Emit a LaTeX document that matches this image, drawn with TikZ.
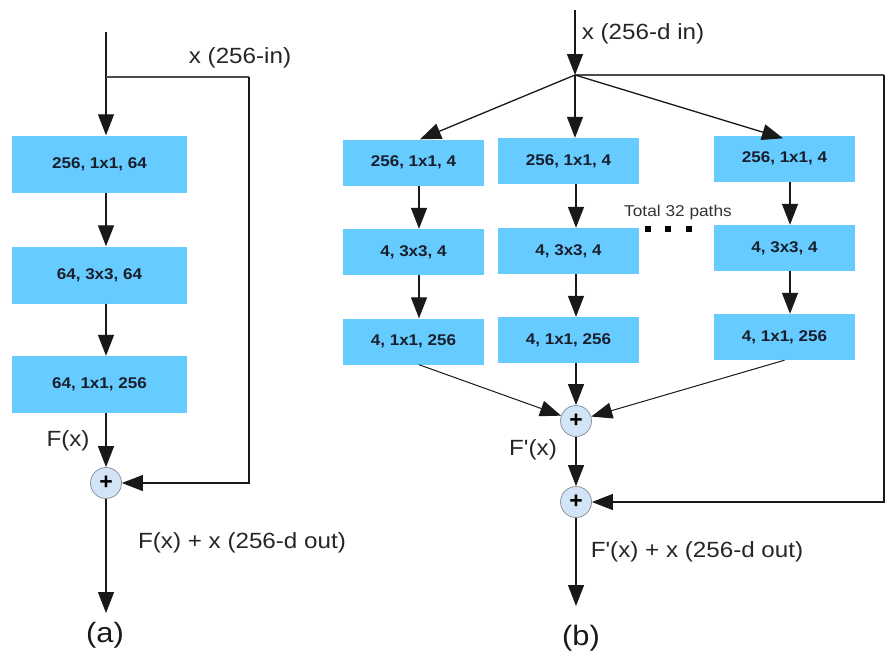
\documentclass[tikz,border=0pt]{standalone}
\usepackage{fontspec}
\setmainfont{Liberation Sans}
\newfontfamily\labfont[FakeStretch=1.1]{Liberation Sans}
\usetikzlibrary{arrows.meta}
\definecolor{boxblue}{RGB}{102,204,255}
\definecolor{boxtext}{RGB}{25,30,45}
\definecolor{plusfill}{RGB}{210,228,246}
\definecolor{plusdraw}{RGB}{140,150,160}
\definecolor{linecol}{RGB}{25,25,25}
\begin{document}
\begin{tikzpicture}[x=1pt,y=-1pt,
  layer/.style={rectangle, fill=boxblue, minimum width=141pt, minimum height=46pt, inner sep=0pt, font=\labfont\bfseries\fontsize{15.5}{18}\selectfont, text=boxtext},
  biglayer/.style={layer, minimum width=175pt, minimum height=57pt},
  addnode/.style={circle, fill=plusfill, draw=plusdraw, line width=0.8pt, minimum size=31pt, inner sep=0pt, font=\bfseries\fontsize{23}{23}\selectfont},
  arr/.style={draw=linecol, line width=1.3pt, -{Triangle[length=21pt,width=16pt]}},
  skipln/.style={draw=black!70, line width=1.5pt},
  lab/.style={font=\labfont\fontsize{22}{25}\selectfont, text=black!85, inner sep=0pt},
  smalllab/.style={font=\labfont\fontsize{15.7}{18}\selectfont, text=black!80, inner sep=0pt},
  captionlab/.style={font=\labfont\fontsize{28}{31}\selectfont, text=black!90, inner sep=0pt},
  dotsq/.style={rectangle, fill=black, minimum size=6pt, inner sep=0pt}
]
\useasboundingbox (0,0) rectangle (885,657);

% ---------------- (a) ----------------
\node[biglayer] (a1) at (99.5,164) {256, 1x1, 64};
\node[biglayer] (a2) at (99.5,275) {64, 3x3, 64};
\node[biglayer] (a3) at (99.5,384.5) {64, 1x1, 256};
\node[addnode] (ap) at (106,483) {+};
\coordinate (atop) at (106,32);
\coordinate (abr) at (106,77);
\coordinate (askip) at (249,77);
\coordinate (aout) at (106,613);

\draw[arr] (atop) -- ([xshift=6.5pt]a1.north);
\draw[skipln] (abr) -- (askip);
\draw[arr] ([xshift=6.5pt]a1.south) -- ([xshift=6.5pt]a2.north);
\draw[arr] ([xshift=6.5pt]a2.south) -- ([xshift=6.5pt]a3.north);
\draw[arr] ([xshift=6.5pt]a3.south) -- (ap);
\draw[arr] (askip) -- (askip |- ap) -- (ap);
\draw[arr] (ap) -- (aout);

\node[lab] (alin) at (240,58) {x (256-in)};
\node[lab] (afx) at (68,441) {F(x)};
\node[lab] (aoutlab) at (242,543) {F(x) + x (256-d out)};
\node[captionlab] (acap) at (105,635) {(a)};

% ---------------- (b) ----------------
\node[layer] (b11) at (413.5,162.5) {256, 1x1, 4};
\node[layer] (b12) at (413.5,252) {4, 3x3, 4};
\node[layer] (b13) at (413.5,341.5) {4, 1x1, 256};
\node[layer] (b21) at (568.5,161) {256, 1x1, 4};
\node[layer] (b22) at (568.5,251) {4, 3x3, 4};
\node[layer] (b23) at (568.5,340) {4, 1x1, 256};
\node[layer] (b31) at (784.5,158.5) {256, 1x1, 4};
\node[layer] (b32) at (784.5,248) {4, 3x3, 4};
\node[layer] (b33) at (784.5,337) {4, 1x1, 256};
\node[addnode] (bp1) at (576,421) {+};
\node[addnode] (bp2) at (576,502) {+};
\coordinate (btop) at (575,10);
\coordinate (bbr) at (575,75);
\coordinate (bskip) at (884,75);
\coordinate (bout) at (576,606);

\draw[arr] (btop) -- (bbr);
\draw[skipln] (bbr) -- (bskip);
\draw[arr] (bbr) -- ([xshift=6.5pt]b11.north);
\draw[arr] (bbr) -- ([xshift=6.5pt]b21.north);
\draw[arr] (bbr) -- ([xshift=-1.5pt,yshift=-3pt]b31.north);

\draw[arr] ([xshift=5.5pt]b11.south) -- ([xshift=5.5pt]b12.north);
\draw[arr] ([xshift=5.5pt]b12.south) -- ([xshift=5.5pt]b13.north);
\draw[arr] ([xshift=7.5pt]b21.south) -- ([xshift=7.5pt]b22.north);
\draw[arr] ([xshift=7.5pt]b22.south) -- ([xshift=7.5pt]b23.north);
\draw[arr] ([xshift=5.5pt]b31.south) -- ([xshift=5.5pt]b32.north);
\draw[arr] ([xshift=5.5pt]b32.south) -- ([xshift=5.5pt]b33.north);

\draw[arr, line width=1pt] ([xshift=5.5pt]b13.south) -- (bp1);
\draw[arr] ([xshift=7.5pt]b23.south) -- (bp1);
\draw[arr, line width=1pt] (b33.south) -- (bp1);
\draw[arr] (bp1) -- (bp2);
\draw[arr] (bskip) -- (bskip |- bp2) -- (bp2);
\draw[arr] (bp2) -- (bout);

\node[lab] (blin) at (643,34) {x (256-d in)};
\node[smalllab] (btot) at (678,212) {Total 32 paths};
\node[dotsq] (d1) at (648,229) {};
\node[dotsq] (d2) at (668,229) {};
\node[dotsq] (d3) at (689,229) {};
\node[lab] (bfx) at (533,450) {F'(x)};
\node[lab] (boutlab) at (697,552) {F'(x) + x (256-d out)};
\node[captionlab] (bcap) at (581,638) {(b)};
\end{tikzpicture}
\end{document}
